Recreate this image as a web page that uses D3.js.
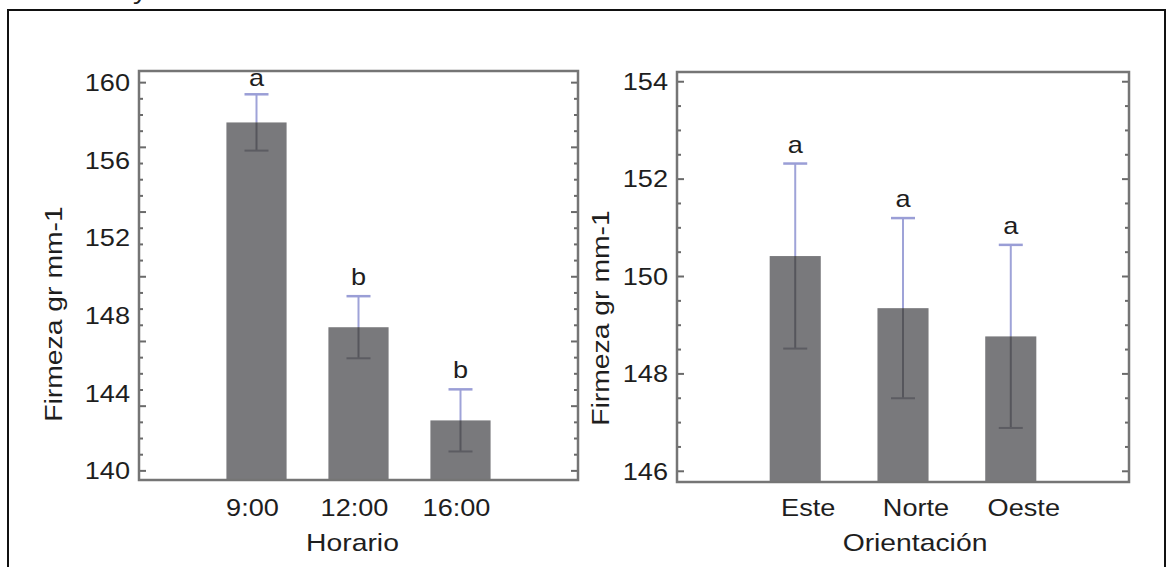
<!DOCTYPE html>
<html>
<head>
<meta charset="utf-8">
<script src="https://cdn.jsdelivr.net/npm/d3@7"></script>
<style>
  body { margin: 0; background: #fff; }
  text { font-family: "Liberation Sans", Arial, sans-serif; fill: #1e1e1e; }
</style>
</head>
<body>
<div id="chart"></div>
<script>
// data
var horario = ["9:00", "12:00", "16:00"],
    horarioMean = [157.95, 147.4, 142.6],
    horarioErr = [1.45, 1.6, 1.6],
    horarioLetters = ["a", "b", "b"],
    horarioTicks = [140, 144, 148, 152, 156, 160];

var orientacion = ["Este", "Norte", "Oeste"],
    orientacionMean = [150.42, 149.35, 148.77],
    orientacionErr = [1.9, 1.85, 1.88],
    orientacionLetters = ["a", "a", "a"],
    orientacionTicks = [146, 148, 150, 152, 154];

var W = 1173, H = 567, stretch = 1.18;

var svg = d3.select("#chart").append("svg")
    .attr("width", W)
    .attr("height", H);

svg.append("rect")
    .attr("width", W).attr("height", H)
    .attr("fill", "#fff");

// outer frame of the figure
svg.append("rect")
    .attr("x", 8).attr("y", 10)
    .attr("width", 1157).attr("height", 620)
    .attr("fill", "none")
    .attr("stroke", "#111")
    .attr("stroke-width", 2);

// tail of a caption letter cut off at the top
addText(svg, 133, -1, "y", {size: 24, anchor: "start"});

function addText(g, x, y, str, o) {
    var rot = o.rotate ? " rotate(" + o.rotate + ")" : "";
    return g.append("text")
        .attr("transform", "translate(" + x + "," + y + ")" + rot + " scale(" + stretch + ",1)")
        .attr("text-anchor", o.anchor || "middle")
        .attr("dy", o.dy || 0)
        .style("font-size", o.size + "px")
        .text(str);
}

function drawPanel(p) {
    var g = svg.append("g");

    var y = d3.scaleLinear().domain(p.yDomain).range([p.bottom, p.top]);
    var x = d3.scaleBand()
        .domain(p.cats)
        .range([p.left, p.right])
        .paddingInner(p.padInner)
        .paddingOuter(p.padOuter);

    // bars
    g.selectAll(".bar").data(p.cats).enter().append("rect")
        .attr("x", d => x(d))
        .attr("width", x.bandwidth())
        .attr("y", (d, i) => y(p.mean[i]))
        .attr("height", (d, i) => p.bottom - y(p.mean[i]))
        .attr("fill", "#79797c");

    // error bars: upper half light blue, lower half dark grey
    p.cats.forEach(function(c, i) {
        var cx = x(c) + x.bandwidth() / 2,
            top = y(p.mean[i] + p.err[i]),
            mid = y(p.mean[i]),
            bot = y(p.mean[i] - p.err[i]);
        g.append("line").attr("x1", cx).attr("x2", cx).attr("y1", top).attr("y2", mid)
            .attr("stroke", "#9fa3d8").attr("stroke-width", 2);
        g.append("line").attr("x1", cx).attr("x2", cx).attr("y1", mid).attr("y2", bot)
            .attr("stroke", "#56565c").attr("stroke-width", 2);
        g.append("line").attr("x1", cx - 12).attr("x2", cx + 12).attr("y1", top).attr("y2", top)
            .attr("stroke", "#9a9ed6").attr("stroke-width", 2.5);
        g.append("line").attr("x1", cx - 12).attr("x2", cx + 12).attr("y1", bot).attr("y2", bot)
            .attr("stroke", "#5c5c62").attr("stroke-width", 2);

        var ly = Math.max(top - 11, p.top + 15);
        addText(g, cx, ly, p.letters[i], {size: 23});
        addText(g, cx + p.labelDx, 516, c, {size: 23});
    });

    // tick marks on both vertical sides, pointing inward
    var n = Math.round((p.tickTo - p.tickFrom) / p.minorStep);
    var marks = d3.range(n + 1).map(k => ({v: p.tickFrom + k * p.minorStep, major: k % p.majorEvery === 0}));
    g.selectAll(".tl").data(marks).enter().append("line")
        .attr("x1", p.left).attr("x2", d => p.left + (d.major ? 7 : 4))
        .attr("y1", d => y(d.v)).attr("y2", d => y(d.v))
        .attr("stroke", "#6a6a6a").attr("stroke-width", 2);
    g.selectAll(".tr").data(marks).enter().append("line")
        .attr("x1", p.right).attr("x2", d => p.right - (d.major ? 7 : 4))
        .attr("y1", d => y(d.v)).attr("y2", d => y(d.v))
        .attr("stroke", "#6a6a6a").attr("stroke-width", 2);

    // tick labels
    p.ticks.forEach(function(t) {
        addText(g, p.left - 9, y(t), t, {size: 23, anchor: "end", dy: "0.36em"});
    });

    // frame
    g.append("rect")
        .attr("x", p.left).attr("y", p.top)
        .attr("width", p.right - p.left).attr("height", p.bottom - p.top)
        .attr("fill", "none")
        .attr("stroke", "#757575")
        .attr("stroke-width", 2.5);

    // axis titles
    addText(g, (p.left + p.right) / 2 + p.titleDx, 551, p.xLabel, {size: 24});
    addText(g, p.yTitleX, p.yTitleY, p.yLabel, {size: 24, rotate: -90});
}

drawPanel({
    cats: horario, mean: horarioMean, err: horarioErr, letters: horarioLetters,
    ticks: horarioTicks, tickFrom: 140, tickTo: 160, minorStep: 20 / 24, majorEvery: 4,
    yDomain: [139.53, 160.6],
    left: 139, right: 578, top: 71, bottom: 480,
    padInner: 0.41, padOuter: 0.857, labelDx: -4, titleDx: -6,
    xLabel: "Horario", yLabel: "Firmeza gr mm-1", yTitleX: 62, yTitleY: 314
});

drawPanel({
    cats: orientacion, mean: orientacionMean, err: orientacionErr, letters: orientacionLetters,
    ticks: orientacionTicks, tickFrom: 146, tickTo: 154, minorStep: 0.5, majorEvery: 4,
    yDomain: [145.78, 154.2],
    left: 677, right: 1129, top: 72, bottom: 482,
    padInner: 0.526, padOuter: 0.86, labelDx: 13, titleDx: 12,
    xLabel: "Orientación", yLabel: "Firmeza gr mm-1", yTitleX: 609, yTitleY: 318
});
</script>
</body>
</html>
